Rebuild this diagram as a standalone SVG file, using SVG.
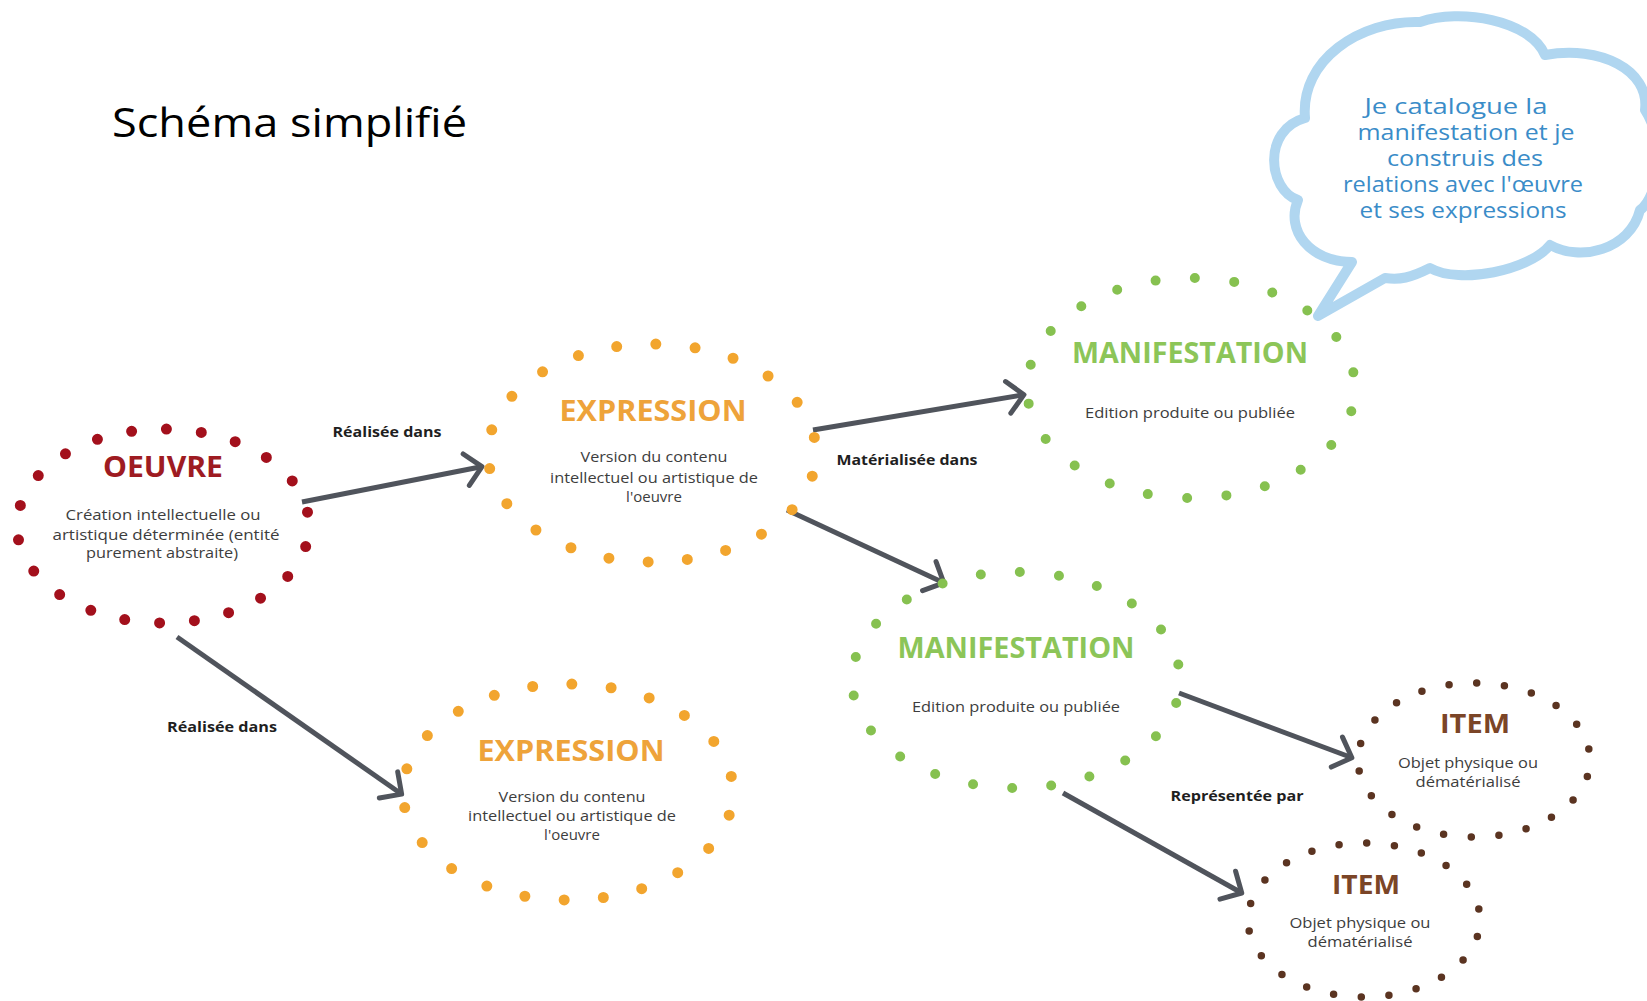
<svg xmlns="http://www.w3.org/2000/svg" width="1647" height="1001" viewBox="0 0 1647 1001">
<style>
.ring{fill:none;stroke-linecap:round;stroke-dasharray:0 1;stroke-dashoffset:0.4}
.t{font-family:"Open Sans","Noto Sans","Liberation Sans",sans-serif;text-anchor:middle}
.title{font-weight:700}
.desc{font-size:15px;fill:#3d3d3d}
.lbl{font-family:"Open Sans","Noto Sans","Liberation Sans",sans-serif;font-weight:700;font-size:15px;fill:#1f1f1f;text-anchor:middle}
.conn{stroke:#50545c;stroke-width:5;fill:none;marker-end:url(#chev)}
.cloudtxt{font-family:"Open Sans","Noto Sans",sans-serif;font-size:21px;fill:#3a8cc8;text-anchor:middle}
</style>
<defs>
<marker id="chev" markerUnits="userSpaceOnUse" markerWidth="32" markerHeight="40" viewBox="0 0 32 40" refX="24" refY="20" orient="auto">
<path d="M10,4 L26,20 L10,36" fill="none" stroke="#50545c" stroke-width="5" stroke-linecap="round" stroke-linejoin="round"/>
</marker>
</defs>
<rect width="1647" height="1001" fill="#ffffff"/>
<text x="112" y="137" font-family="Open Sans, Noto Sans, Liberation Sans, sans-serif" font-size="40" fill="#000" textLength="355" lengthAdjust="spacingAndGlyphs">Schéma simplifié</text>

<g id="cloud">
<path d="M1318,316 L1352,262 C1310,262 1285,230 1298,200 C1268,190 1262,130 1305,118 C1300,60 1360,20 1420,22 C1460,8 1530,20 1545,55 C1600,45 1650,70 1645,110 C1665,140 1660,195 1640,210 C1630,250 1580,262 1550,245 C1530,270 1460,285 1430,268 C1410,278 1400,280 1385,278 Z" fill="#ffffff" stroke="#b0d6f0" stroke-width="10" stroke-linejoin="round"/>
<text class="cloudtxt" x="1456" y="114" textLength="183" lengthAdjust="spacingAndGlyphs">Je catalogue la</text>
<text class="cloudtxt" x="1466" y="140" textLength="217" lengthAdjust="spacingAndGlyphs">manifestation et je</text>
<text class="cloudtxt" x="1465" y="166" textLength="156" lengthAdjust="spacingAndGlyphs">construis des</text>
<text class="cloudtxt" x="1463" y="192" textLength="240" lengthAdjust="spacingAndGlyphs">relations avec l'œuvre</text>
<text class="cloudtxt" x="1463" y="218" textLength="207" lengthAdjust="spacingAndGlyphs">et ses expressions</text>
</g>

<g id="connectors">
<path class="conn" d="M302,502 L480,467"/>
<path class="conn" d="M813,430 L1022,395"/>
<path class="conn" d="M787,510 L942,582"/>
<path class="conn" d="M177,637 L400,793"/>
<path class="conn" d="M1179,693 L1350,757"/>
<path class="conn" d="M1063,793 L1240,892"/>
<text class="lbl" x="387" y="437" textLength="109" lengthAdjust="spacingAndGlyphs">Réalisée dans</text>
<text class="lbl" x="907" y="465" textLength="141" lengthAdjust="spacingAndGlyphs">Matérialisée dans</text>
<text class="lbl" x="222" y="732" textLength="110" lengthAdjust="spacingAndGlyphs">Réalisée dans</text>
<text class="lbl" x="1237" y="801" textLength="133" lengthAdjust="spacingAndGlyphs">Représentée par</text>
</g>

<g id="oeuvre">
<ellipse class="ring" cx="163" cy="526" rx="146" ry="97" pathLength="22" stroke="#a3101c" stroke-width="11"/>
<text class="t title" x="163" y="477" font-size="28" fill="#9e1b22" textLength="120" lengthAdjust="spacingAndGlyphs">OEUVRE</text>
<text class="t desc" x="163" y="520" textLength="195" lengthAdjust="spacingAndGlyphs">Création intellectuelle ou</text>
<text class="t desc" x="166" y="540" textLength="227" lengthAdjust="spacingAndGlyphs">artistique déterminée (entité</text>
<text class="t desc" x="162" y="558" textLength="152" lengthAdjust="spacingAndGlyphs">purement abstraite)</text>
</g>

<g id="expression1">
<ellipse class="ring" cx="652" cy="453" rx="164" ry="109" pathLength="22" stroke="#f2a52e" stroke-width="11"/>
<text class="t title" x="653" y="421" font-size="29" fill="#eea33a" textLength="187" lengthAdjust="spacingAndGlyphs">EXPRESSION</text>
<text class="t desc" x="654" y="462" textLength="147" lengthAdjust="spacingAndGlyphs">Version du contenu</text>
<text class="t desc" x="654" y="483" textLength="208" lengthAdjust="spacingAndGlyphs">intellectuel ou artistique de</text>
<text class="t desc" x="654" y="502">l'oeuvre</text>
</g>

<g id="expression2">
<ellipse class="ring" cx="568" cy="792" rx="165" ry="108" pathLength="22" stroke="#f2a52e" stroke-width="11"/>
<text class="t title" x="571" y="761" font-size="29" fill="#eea33a" textLength="187" lengthAdjust="spacingAndGlyphs">EXPRESSION</text>
<text class="t desc" x="572" y="802" textLength="147" lengthAdjust="spacingAndGlyphs">Version du contenu</text>
<text class="t desc" x="572" y="821" textLength="208" lengthAdjust="spacingAndGlyphs">intellectuel ou artistique de</text>
<text class="t desc" x="572" y="840">l'oeuvre</text>
</g>

<g id="manifestation1">
<ellipse class="ring" cx="1191" cy="388" rx="164" ry="110" pathLength="22" stroke="#86c150" stroke-width="10"/>
<text class="t title" x="1190" y="363" font-size="28" fill="#8cc558" textLength="236" lengthAdjust="spacingAndGlyphs">MANIFESTATION</text>
<text class="t desc" x="1190" y="418" textLength="210" lengthAdjust="spacingAndGlyphs">Edition produite ou publiée</text>
</g>

<g id="manifestation2">
<ellipse class="ring" cx="1016" cy="680" rx="164" ry="108" pathLength="22" stroke="#86c150" stroke-width="10"/>
<text class="t title" x="1016" y="658" font-size="28" fill="#8cc558" textLength="237" lengthAdjust="spacingAndGlyphs">MANIFESTATION</text>
<text class="t desc" x="1016" y="712" textLength="208" lengthAdjust="spacingAndGlyphs">Edition produite ou publiée</text>
</g>

<g id="item1">
<ellipse class="ring" cx="1474" cy="760" rx="116" ry="77" pathLength="22" stroke="#5b3421" stroke-width="7.5"/>
<text class="t title" x="1475" y="733" font-size="27" fill="#7b4527" textLength="70" lengthAdjust="spacingAndGlyphs">ITEM</text>
<text class="t desc" x="1468" y="768" textLength="140" lengthAdjust="spacingAndGlyphs">Objet physique ou</text>
<text class="t desc" x="1468" y="787" textLength="105" lengthAdjust="spacingAndGlyphs">dématérialisé</text>
</g>

<g id="item2">
<ellipse class="ring" cx="1364" cy="920" rx="116" ry="77" pathLength="22" stroke="#5b3421" stroke-width="7.5"/>
<text class="t title" x="1366" y="894" font-size="27" fill="#7b4527" textLength="68" lengthAdjust="spacingAndGlyphs">ITEM</text>
<text class="t desc" x="1360" y="928" textLength="141" lengthAdjust="spacingAndGlyphs">Objet physique ou</text>
<text class="t desc" x="1360" y="947" textLength="105" lengthAdjust="spacingAndGlyphs">dématérialisé</text>
</g>
</svg>
